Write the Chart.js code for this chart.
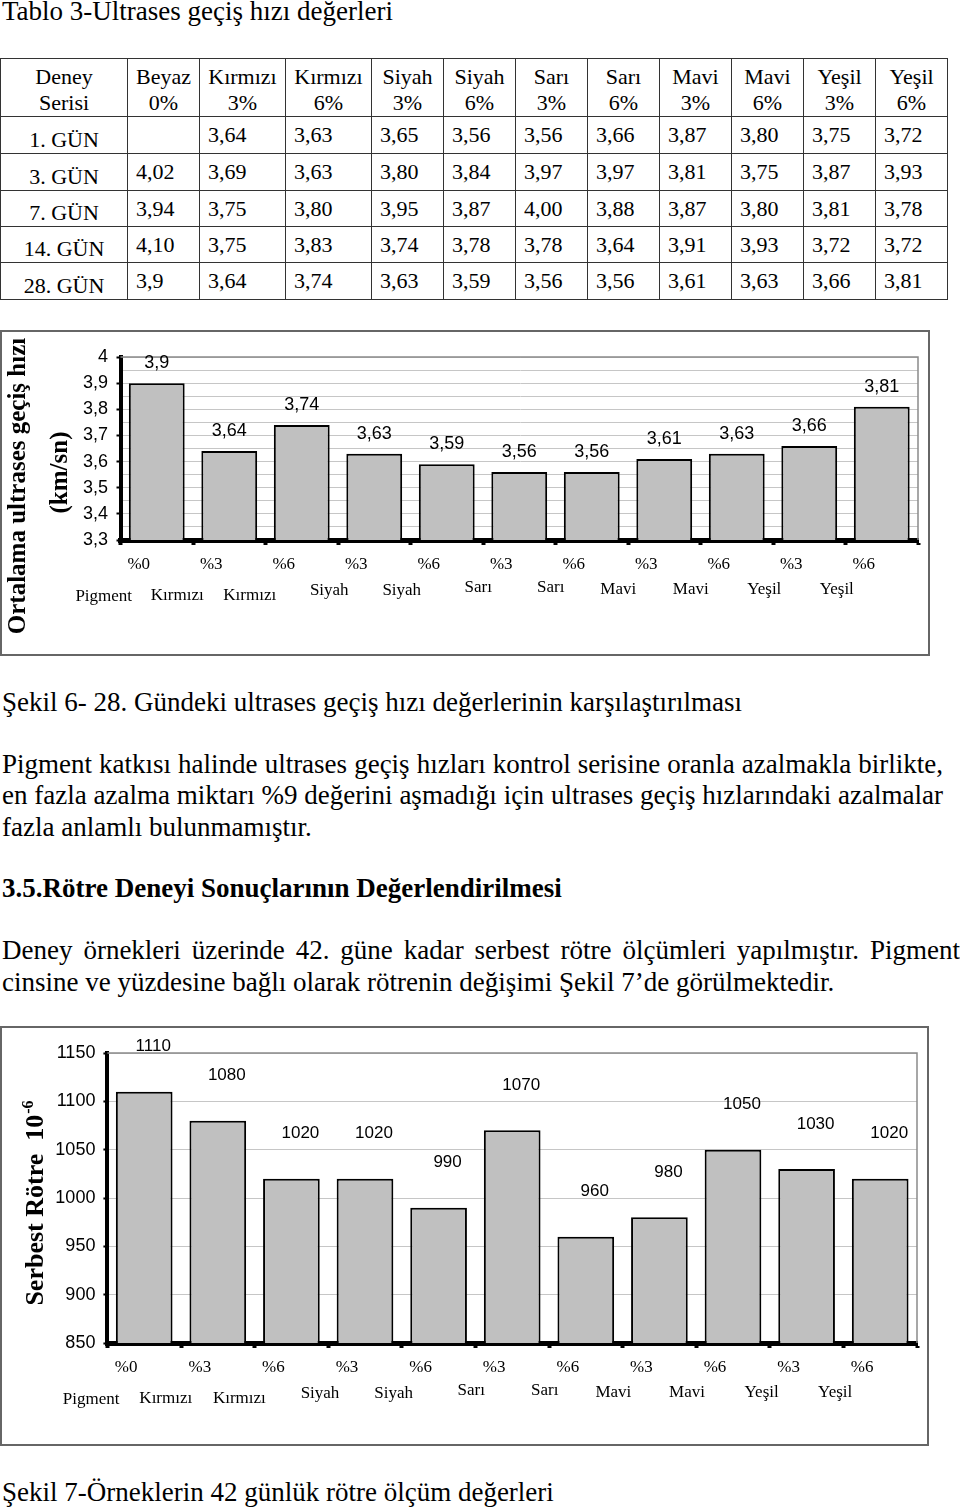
<!DOCTYPE html>
<html><head><meta charset="utf-8">
<script src="https://cdn.jsdelivr.net/npm/chart.js@4.4.1/dist/chart.umd.min.js"></script>
<style>
html,body{margin:0;padding:0;background:#fff;}
body{width:960px;height:1509px;position:relative;overflow:hidden;font-family:"Liberation Serif","Times New Roman",serif;color:#000;}
.t{position:absolute;left:2px;font-size:27px;line-height:27px;white-space:nowrap;}
.j{text-align:justify;text-align-last:justify;}
.b{font-weight:bold;}
table{position:absolute;left:0;top:58px;border-collapse:collapse;table-layout:fixed;font-size:22px;line-height:22px;}
td{border:1px solid #333;padding:0 0 0 8px;vertical-align:middle;white-space:nowrap;overflow:hidden;}
td.h{text-align:center;padding:4px 0 0 0;line-height:26px;}
td.r{text-align:center;padding:9px 0 0 0;}
.frame{position:absolute;border:2px solid #666;box-sizing:border-box;}
canvas{position:absolute;}
</style></head>
<body>
<div class="t" style="top:-2px">Tablo 3-Ultrases geçiş hızı değerleri</div>
<table id="tbl"></table>

<div class="frame" style="left:0;top:330px;width:930px;height:326px"></div>
<canvas id="c1" width="930" height="325" style="left:0;top:331px"></canvas>

<div class="t" style="top:689.4px">Şekil 6- 28. Gündeki ultrases geçiş hızı değerlerinin karşılaştırılması</div>
<div class="t j" style="top:751.4px;width:941px">Pigment katkısı halinde ultrases geçiş hızları kontrol serisine oranla azalmakla birlikte,</div>
<div class="t j" style="top:782.4px;width:941px">en fazla azalma miktarı %9 değerini aşmadığı için ultrases geçiş hızlarındaki azalmalar</div>
<div class="t" style="top:813.9px">fazla anlamlı bulunmamıştır.</div>
<div class="t b" style="top:875.4px">3.5.Rötre Deneyi Sonuçlarının Değerlendirilmesi</div>
<div class="t j" style="top:937.4px;width:958px">Deney örnekleri üzerinde 42. güne kadar serbest rötre ölçümleri yapılmıştır. Pigment</div>
<div class="t" style="top:968.9px">cinsine ve yüzdesine bağlı olarak rötrenin değişimi Şekil 7’de görülmektedir.</div>

<div class="frame" style="left:0;top:1026px;width:929px;height:420px"></div>
<canvas id="c2" width="928" height="418" style="left:0;top:1027px"></canvas>

<div class="t" style="top:1479.4px">Şekil 7-Örneklerin 42 günlük rötre ölçüm değerleri</div>

<script>
// ---------- Table data ----------
const tableHeaders = [['Deney','Serisi'],['Beyaz','0%'],['Kırmızı','3%'],['Kırmızı','6%'],['Siyah','3%'],['Siyah','6%'],['Sarı','3%'],['Sarı','6%'],['Mavi','3%'],['Mavi','6%'],['Yeşil','3%'],['Yeşil','6%']];
const tableRowLabels = ['1. GÜN','3. GÜN','7. GÜN','14. GÜN','28. GÜN'];
const day1  = ['',    '3,64','3,63','3,65','3,56','3,56','3,66','3,87','3,80','3,75','3,72'];
const day3  = ['4,02','3,69','3,63','3,80','3,84','3,97','3,97','3,81','3,75','3,87','3,93'];
const day7  = ['3,94','3,75','3,80','3,95','3,87','4,00','3,88','3,87','3,80','3,81','3,78'];
const day14 = ['4,10','3,75','3,83','3,74','3,78','3,78','3,64','3,91','3,93','3,72','3,72'];
const day28 = ['3,9', '3,64','3,74','3,63','3,59','3,56','3,56','3,61','3,63','3,66','3,81'];
const tableData = [day1, day3, day7, day14, day28];

// ---------- Chart data ----------
const percents = ['%0','%3','%6','%3','%6','%3','%6','%3','%6','%3','%6'];
const pigments = ['Pigment','Kırmızı','Kırmızı','Siyah','Siyah','Sarı','Sarı','Mavi','Mavi','Yeşil','Yeşil'];
const ultrasonic28 = [3.9, 3.64, 3.74, 3.63, 3.59, 3.56, 3.56, 3.61, 3.63, 3.66, 3.81];
const shrinkage42 = [1110, 1080, 1020, 1020, 990, 1070, 960, 980, 1050, 1030, 1020];
const ultraTitle = ['Ortalama ultrases geçiş hızı', '(km/sn)'];
const shrinkTitle = ['Serbest Rötre  10', '-6'];

// ---------- build table ----------
(function(){
  const colW = [127,72,86,86,72,72,72,72,72,72,72,72];
  const rowH = [58,37,37,36,36,37];
  const tbl = document.getElementById('tbl');
  const cg = document.createElement('colgroup');
  colW.forEach(w=>{const c=document.createElement('col');c.style.width=w+'px';cg.appendChild(c);});
  tbl.appendChild(cg);
  let tr = document.createElement('tr'); tr.style.height=rowH[0]+'px';
  tableHeaders.forEach(h=>{const td=document.createElement('td');td.className='h';td.innerHTML=h[0]+'<br>'+h[1];tr.appendChild(td);});
  tbl.appendChild(tr);
  tableRowLabels.forEach((lab,r)=>{
    tr=document.createElement('tr'); tr.style.height=rowH[r+1]+'px';
    const td0=document.createElement('td');td0.className='r';td0.textContent=lab;tr.appendChild(td0);
    tableData[r].forEach(v=>{const td=document.createElement('td');td.textContent=v;tr.appendChild(td);});
    tbl.appendChild(tr);
  });
})();

// ---------- charts ----------
Chart.defaults.font.family = '"Liberation Sans", Arial, sans-serif';
Chart.defaults.color = '#000';
const SERIF = '"Liberation Serif","Times New Roman",serif';
// style: position of the two-line category labels relative to bar centre / axis
const nameOffsets = {'Pigment':[-53,57],'Kırmızı':[-52,56],'Siyah':[-45,51],'Sarı':[-41,48],'Mavi':[-46,50],'Yeşil':[-45,50]};

function buildChart(id, values, o){
  const decor = {
    id:'decor'+id,
    beforeDatasetsDraw(chart){
      const a=chart.chartArea, ctx=chart.ctx;
      ctx.save(); ctx.strokeStyle='#8a8a8a'; ctx.lineWidth=1.5;
      ctx.beginPath(); ctx.moveTo(a.left,a.top); ctx.lineTo(a.right,a.top); ctx.lineTo(a.right,a.bottom); ctx.stroke();
      ctx.restore();
    },
    afterDraw(chart){
      const ctx=chart.ctx, a=chart.chartArea, xs=chart.scales.x;
      ctx.save();
      ctx.font = o.labelSize+'px "Liberation Sans", Arial, sans-serif';
      ctx.fillStyle='#000'; ctx.textAlign='center'; ctx.textBaseline='middle';
      chart.getDatasetMeta(0).data.forEach((bar,i)=>{
        ctx.fillText(o.fmt(values[i]), bar.x+o.labelDx, bar.y+o.labelDy);
      });
      ctx.font = '17px '+SERIF;
      percents.forEach((p,i)=>{
        const x = xs.getPixelForValue(i);
        ctx.fillText(p, x-18, a.bottom+25);
        const off = nameOffsets[pigments[i]];
        ctx.fillText(pigments[i], x+off[0], a.bottom+off[1]);
      });
      ctx.restore();
      o.drawTitle(ctx, chart);
    }
  };
  return new Chart(document.getElementById(id), {
    type:'bar',
    data:{labels: percents.map((p,i)=>p+' '+pigments[i]),
      datasets:[{data:values, backgroundColor:'#c0c0c0', borderColor:'#000', borderWidth:2, borderSkipped:false, barPercentage:0.77, categoryPercentage:1}]},
    options:{
      responsive:false, animation:false, devicePixelRatio:1,
      layout:{padding:{top:o.padTop,right:o.padRight,left:0,bottom:0}},
      plugins:{legend:{display:false}, tooltip:{enabled:false}},
      scales:{
        x:{z:1, grid:{display:true, drawOnChartArea:false, drawTicks:true, tickLength:5, tickWidth:4, tickColor:'#000', offset:true},
           border:{display:true,color:'#000',width:5}, ticks:{display:false},
           afterFit(s){s.height=o.xHeight;}},
        y:{min:o.min, max:o.max,
           grid:{color:'#c6c6c6', lineWidth:1, drawTicks:true, tickLength:4, tickWidth:2,
                 tickColor:(c)=> (c.tick && c.tick.label!=='' ? '#000' : 'rgba(0,0,0,0)')},
           border:{display:true,color:'#000',width:4},
           ticks:{stepSize:o.step, padding:o.tickPad, font:{size:18}, color:'#000', autoSkip:false, callback:o.tickCb},
           afterFit(s){s.width=o.yWidth;}}
      }
    },
    plugins:[decor]
  });
}

buildChart('c1', ultrasonic28, {
  min:3.3, max:4, step:0.05, padTop:26, padRight:12, xHeight:116, yWidth:120.5, tickPad:8.5,
  labelSize:18, labelDx:0, labelDy:-20,
  fmt:v=>String(v).replace('.',','),
  tickCb:v=>{const k=Math.round(v*100); if(k%10!==0) return ''; return String(k/100).replace('.',',');},
  drawTitle(ctx){
    ctx.save(); ctx.fillStyle='#000'; ctx.textAlign='center'; ctx.textBaseline='alphabetic';
    ctx.font='bold 25px '+SERIF;
    ctx.translate(25,155); ctx.rotate(-Math.PI/2); ctx.fillText(ultraTitle[0],0,0);
    ctx.restore();
    ctx.save(); ctx.fillStyle='#000'; ctx.textAlign='center'; ctx.textBaseline='alphabetic';
    ctx.font='bold 25px '+SERIF;
    ctx.translate(67,141.5); ctx.rotate(-Math.PI/2); ctx.fillText(ultraTitle[1],0,0);
    ctx.restore();
  }
});

buildChart('c2', shrinkage42, {
  min:850, max:1150, step:50, padTop:26, padRight:11, xHeight:102, yWidth:107.4, tickPad:8,
  labelSize:17, labelDx:9, labelDy:-45,
  fmt:v=>String(v),
  tickCb:v=>String(v),
  drawTitle(ctx){
    ctx.save(); ctx.fillStyle='#000'; ctx.textBaseline='alphabetic'; ctx.textAlign='left';
    ctx.translate(43,176.5); ctx.rotate(-Math.PI/2);
    ctx.font='bold 26px '+SERIF; const w1=ctx.measureText(shrinkTitle[0]).width;
    ctx.font='bold 16px '+SERIF; const w2=ctx.measureText(shrinkTitle[1]).width;
    const x0=-(w1+w2)/2;
    ctx.font='bold 26px '+SERIF; ctx.fillText(shrinkTitle[0],x0,0);
    ctx.font='bold 16px '+SERIF; ctx.fillText(shrinkTitle[1],x0+w1+1,-10);
    ctx.restore();
  }
});
</script>
</body></html>
